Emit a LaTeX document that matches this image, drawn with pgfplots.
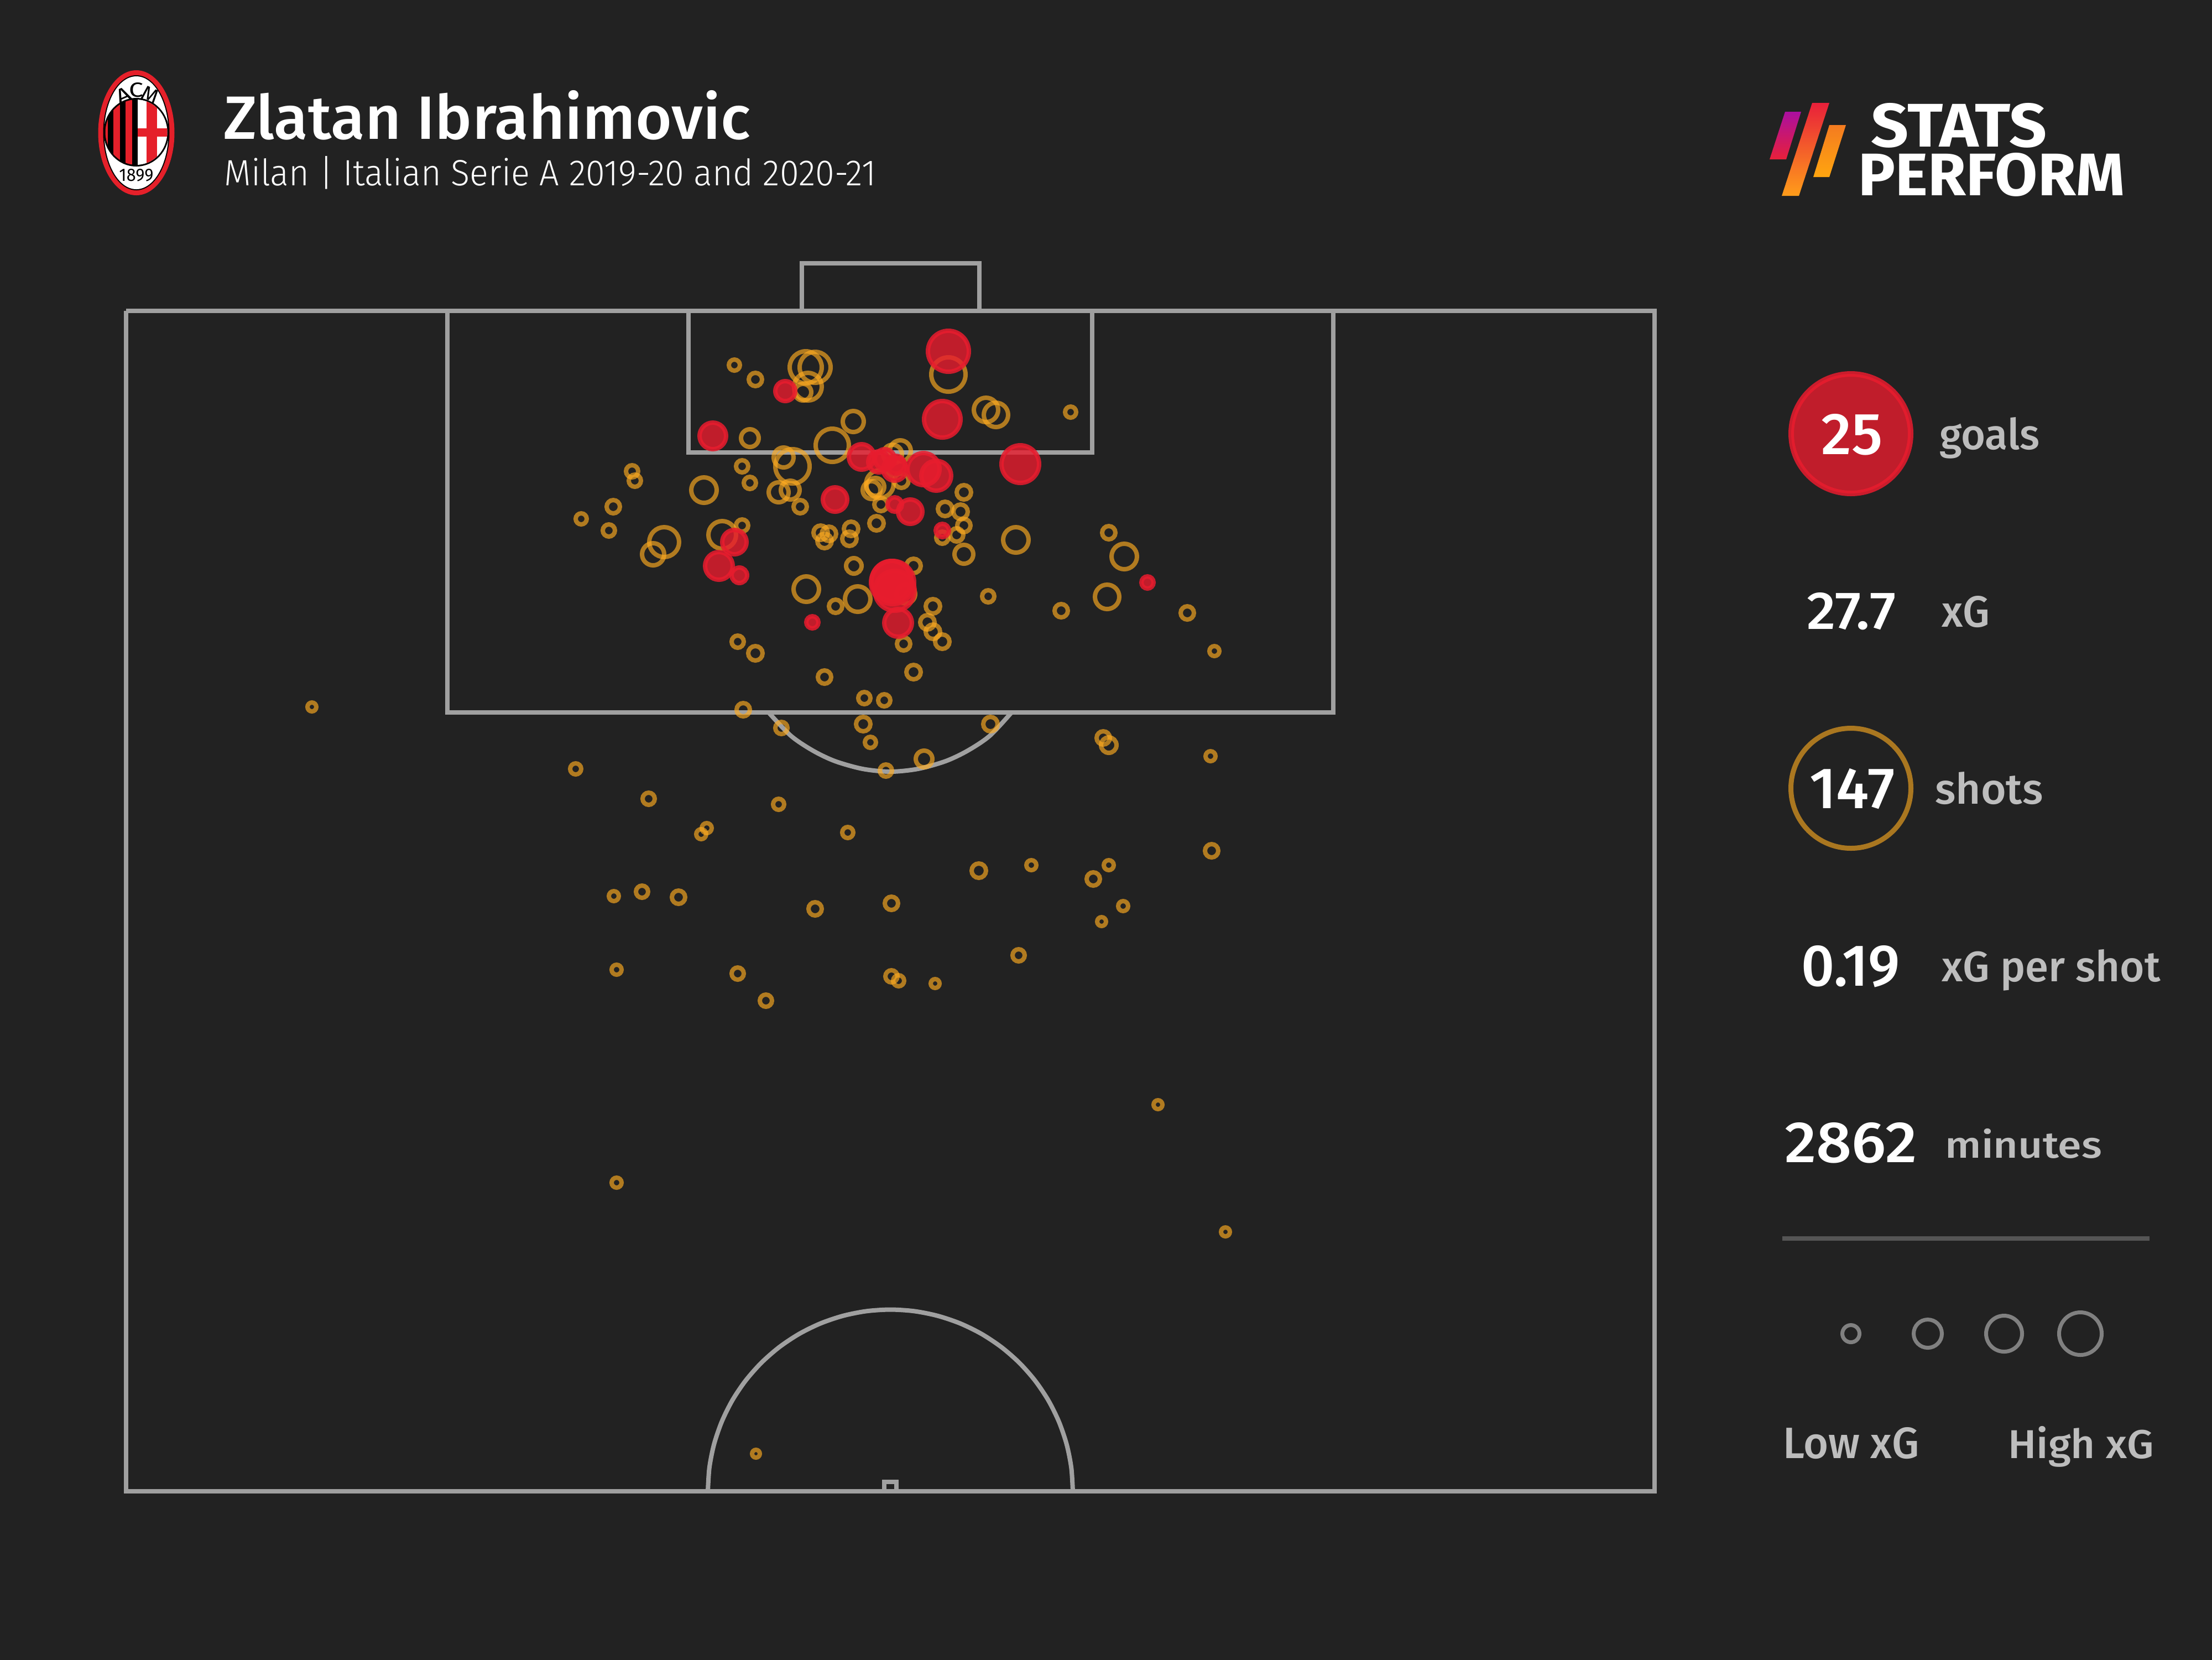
\documentclass[border=0pt]{standalone}
\usepackage{fontspec}
\usepackage{graphicx}
\usepackage{pgfplots}
\usepackage{pgfplotstable}
\pgfplotsset{compat=1.18}
\setmainfont{Fira Sans}
\newfontfamily\fl{Fira Sans Light}
\newfontfamily\fm{Fira Sans Medium}
\definecolor{bg}{HTML}{222222}
\definecolor{linec}{HTML}{A0A0A0}
\definecolor{shotc}{HTML}{FFAC20}
\definecolor{goalc}{HTML}{E81C2E}
\definecolor{txtg}{HTML}{BDBDBD}
\definecolor{legc}{HTML}{808080}
\definecolor{rulec}{HTML}{555555}
\definecolor{crestred}{HTML}{E5202A}
\definecolor{logoa}{HTML}{AB0FA0}
\definecolor{logob}{HTML}{E8203A}
\definecolor{logoc}{HTML}{FF9D1A}
\definecolor{logod}{HTML}{F47B20}
\definecolor{logoe}{HTML}{FFA50F}
% picture is 4000x3000 px at 0.005cm per px
\newlength{\pxu}\setlength{\pxu}{0.005cm}
\newcommand{\T}[7]{\node[anchor=base west,inner sep=0pt,text=#5] at (axis cs:#1,#2) {\resizebox{#3\pxu}{#4\pxu}{#6{}#7}};}

\pgfplotstableread{
x y r
1328 660 14
1366 686 16
1457 664 33
1474 664 32
1461 699 29
1452 709 19
1715 677 35
1783 741 26
1801 750 26
1936 745 14
1543 762 23
1356 792 20
1505 805 34
1417 827 22
1433 843 35
1628 815 23
1614 821 21
1342 843 15
1143 852 15
1148 869 15
1273 886 27
1356 873 15
1408 890 22
1429 886 21
1447 916 16
1591 875 29
1576 886 20
1583 880 20
1630 869 17
1593 912 16
1743 890 17
1709 920 17
1737 925 17
1743 950 16
1585 946 17
1109 916 16
1051 938 14
1101 959 15
1201 980 31
1181 1002 24
1306 967 29
1342 950 15
1484 963 17
1499 965 17
1491 978 17
1539 956 17
1536 974 17
1704 972 15
1730 967 16
1743 1002 21
1837 976 27
2005 963 16
2033 1006 27
1544 1023 18
1652 1023 17
1458 1065 27
1551 1083 27
1511 1096 16
1638 1074 21
1787 1078 15
1687 1096 17
1919 1104 16
2002 1079 26
2147 1108 16
1677 1125 17
1687 1142 17
1704 1160 17
1634 1164 16
1334 1160 15
1366 1181 17
2196 1177 13
1491 1224 16
1652 1215 17
1563 1262 15
1599 1266 15
1344 1283 16
1413 1316 15
1561 1309 17
1574 1342 14
1791 1309 17
1995 1334 16
2005 1347 18
2189 1367 13
1602 1393 15
1671 1372 19
1041 1390 14
1173 1444 15
1408 1454 14
1533 1505 14
1278 1497 13
1268 1508 13
2191 1538 16
1770 1574 17
1865 1564 13
2005 1564 13
1977 1589 16
2031 1638 13
1992 1666 12
1110 1620 13
1161 1612 15
1227 1622 16
1474 1643 16
1612 1633 16
1115 1753 13
1334 1760 15
1385 1809 15
1612 1765 15
1625 1773 14
1691 1778 12
1842 1727 15
2094 1997 12
1115 2138 13
2216 2227 12
1367 2628 11
564 1278 12
}\shots

\pgfplotstableread{
x y r
1715 635 41
1420 707 22
1704 758 37
1289 788 28
1845 839 38
1558 826 27
1589 835 23
1618 848 25
1600 830 22
1620 840 20
1670 848 33
1693 860 31
1510 903 26
1618 912 17
1646 925 26
1704 959 16
1328 980 26
1300 1023 29
1337 1040 18
2075 1053 15
1614 1053 43
1612 1050 40
1618 1068 40
1469 1125 15
1624 1126 29
}\goals

\pgfplotsset{
  bubble/.style n args={2}{scatter, only marks,
    visualization depends on={(\thisrow{r}-#1/2)*0.14226 \as \markrad},
    scatter/@pre marker code/.code={\scope[#2, line width=#1*0.14226pt, /tikz/mark size=\markrad]},
    scatter/@post marker code/.code={\endscope},
  },
  pitch/.style={linec, line width=1.14pt, line join=miter, no markers},
}

\begin{document}
\begin{tikzpicture}
\fill[bg,overlay] (-1,-1) rectangle (21,16);
\begin{axis}[
  at={(0,0)}, anchor=south west,
  scale only axis, width=20cm, height=15cm,
  xmin=0, xmax=4000, ymin=0, ymax=3000, y dir=reverse,
  axis lines=none, ticks=none,
  axis background/.style={fill=bg},
  after end axis/.code={%
    \T{3292}{821}{111}{73}{white}{\fm}{25}
  },
]
% pitch
\addplot[pitch] coordinates {(228,562) (2992,562) (2992,2696) (228,2696) (228,562)};
\addplot[pitch] coordinates {(1450,562) (1450,476) (1771,476) (1771,562)};
\addplot[pitch] coordinates {(809,562) (809,1288) (2411,1288) (2411,562)};
\addplot[pitch] coordinates {(1245,562) (1245,818) (1975,818) (1975,562)};
\addplot[pitch, smooth] coordinates {(1389,1287) (1430,1330) (1470,1357) (1510,1376) (1560,1390) (1610,1395) (1660,1390) (1710,1376) (1750,1357) (1790,1330) (1830,1287)};
\addplot[pitch, smooth] coordinates {(1280,2696) (1282.8,2653.1) (1291.2,2611) (1305.1,2570.3) (1324.2,2531.7) (1348.2,2496) (1376.7,2463.7) (1409.1,2435.4) (1445,2411.5) (1483.7,2392.5) (1524.6,2378.7) (1566.9,2370.3) (1610,2367.5) (1653.1,2370.3) (1695.4,2378.7) (1736.3,2392.5) (1775,2411.5) (1810.9,2435.4) (1843.3,2463.7) (1871.8,2496) (1895.8,2531.7) (1914.9,2570.3) (1928.8,2611) (1937.2,2653.1) (1940,2696)};
\addplot[pitch] coordinates {(1599,2696) (1599,2679) (1621,2679) (1621,2696)};
% side panel rule
\addplot[color=rulec, line width=1.14pt, no markers] coordinates {(3223,2239) (3887,2239)};

% shots and goals
\addplot[mark=o, bubble={8}{draw=shotc, draw opacity=.65}] table {\shots};
\addplot[mark=*, bubble={8}{draw=goalc, draw opacity=.85, fill=goalc, fill opacity=.8}] table {\goals};
% panel badges
\addplot[mark=*, bubble={10}{draw=goalc, draw opacity=.85, fill=goalc, fill opacity=.8}] table {
x y r
3347 784 113
};
\addplot[mark=o, bubble={9}{draw=shotc, draw opacity=.62}] table {
x y r
3347 1425 113
};
% xG size key
\addplot[mark=o, bubble={7}{draw=legc}] table {
x y r
3347 2411 19
3486 2411 29
3624 2411 36
3762 2411 42
};

% title
\T{403}{251}{952}{88}{white}{\fm}{Zlatan Ibrahimovic}
\T{404}{335}{1178}{53}{white}{\fl}{Milan | Italian Serie A 2019-20 and 2020-21}

% panel text
\T{3506}{812}{181}{58}{txtg}{\fm}{goals}
\T{3266}{1137}{161}{66}{white}{\fm}{27.7}
\T{3510}{1133}{87}{56}{txtg}{\fm}{xG}
\T{3271}{1461}{154}{72}{white}{\fm}{147}
\T{3498}{1453}{195}{58}{txtg}{\fm}{shots}
\T{3256}{1782}{178}{73}{white}{\fm}{0.19}
\T{3510}{1774}{395}{58}{txtg}{\fm}{xG per shot}
\T{3226}{2101}{239}{72}{white}{\fm}{2862}
\T{3516}{2093}{283}{53}{txtg}{\fm}{minutes}
\T{3223}{2636}{246}{56}{txtg}{\fm}{Low xG}
\T{3630}{2636}{263}{58}{txtg}{\fm}{High xG}

% Stats Perform mark
\shade[top color=logoa, bottom color=logob] (axis cs:3228,202) -- (axis cs:3257,202) -- (axis cs:3230,288) -- (axis cs:3200,288) -- cycle;
\shade[top color=logob, bottom color=logoc] (axis cs:3277,186) -- (axis cs:3308,186) -- (axis cs:3253,354) -- (axis cs:3222,354) -- cycle;
\shade[top color=logod, bottom color=logoe] (axis cs:3308,226) -- (axis cs:3338,226) -- (axis cs:3308,320) -- (axis cs:3279,320) -- cycle;
\T{3382}{265}{318}{79}{white}{\bfseries}{STATS}
\T{3359}{353}{481}{77}{white}{\bfseries}{PERFORM}

% Milan crest
\fill[crestred] (axis cs:246.5,240) ellipse [x radius=.345cm, y radius=.565cm];
\fill[black] (axis cs:246.5,240) ellipse [x radius=.30cm, y radius=.52cm];
\fill[white] (axis cs:246.5,240) ellipse [x radius=.29cm, y radius=.51cm];
\fill[black] (axis cs:246.5,239) ellipse [x radius=.295cm, y radius=.31cm];
\begin{scope}
\clip (axis cs:246.5,239) ellipse [x radius=.28cm, y radius=.295cm];
\fill[crestred] (axis cs:188,170) rectangle (axis cs:195,310);
\fill[crestred] (axis cs:205,170) rectangle (axis cs:217,310);
\fill[crestred] (axis cs:227,170) rectangle (axis cs:239,310);
\fill[white] (axis cs:249,170) rectangle (axis cs:310,310);
\fill[crestred] (axis cs:265,170) rectangle (axis cs:284,310);
\fill[crestred] (axis cs:249,232) rectangle (axis cs:310,247);
\end{scope}
\node[inner sep=0pt, rotate=24] at (axis cs:223,172) {\resizebox{26\pxu}{26\pxu}{A}};
\node[inner sep=0pt] at (axis cs:247,163) {\resizebox{26\pxu}{26\pxu}{C}};
\node[inner sep=0pt, rotate=-24] at (axis cs:272,172) {\resizebox{30\pxu}{26\pxu}{M}};
\node[anchor=base, inner sep=0pt] at (axis cs:246.5,327) {\resizebox{62\pxu}{22\pxu}{1899}};
\end{axis}
\end{tikzpicture}
\end{document}
